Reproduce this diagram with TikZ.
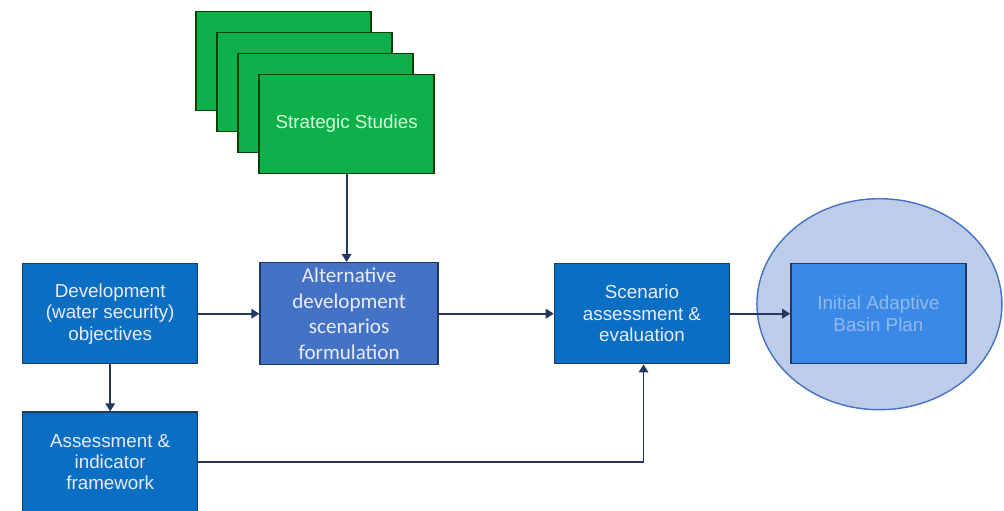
\documentclass[tikz,border=0pt]{standalone}
\usepackage{fontspec}
\setmainfont{Liberation Sans}
\newfontfamily\calibri{Carlito}
\usepackage{tikz}
\usetikzlibrary{positioning, backgrounds, arrows.meta, calc, shapes.geometric}

\definecolor{stratgreen}{HTML}{0DB04B}
\definecolor{devblue}{HTML}{0A6FC2}
\definecolor{altblue}{HTML}{4472C4}
\definecolor{planblue}{HTML}{3A89E6}
\definecolor{ringfill}{HTML}{BDCCE9}
\definecolor{ringline}{HTML}{4472C4}
\definecolor{edgenavy}{HTML}{22385F}
\definecolor{planText}{HTML}{93B9EC}

\begin{document}
\begin{tikzpicture}[
  box/.style={draw=edgenavy, line width=0.8pt, align=center, text=white!92!blue,
              minimum width=3.5cm, minimum height=2cm, inner sep=2pt,
              font=\fontsize{10.7}{12.2}\selectfont},
  study/.style={box, fill=stratgreen, draw=green!25!black, text=white!85!green,
                minimum height=1.98cm},
  arr/.style={-{Triangle[length=4.6pt, width=5.4pt]}, draw=edgenavy, line width=1.1pt},
]
\useasboundingbox (0,0) rectangle (20.08,-10.22);

%% ---- Main row ----

\node[box, fill=devblue, anchor=north west] (dev) at (0.44,-5.26)
    {Development\\(water security)\\objectives};

\node[box, fill=altblue, minimum width=3.56cm, minimum height=2.04cm,
      font=\calibri\fontsize{12}{14.6}\selectfont, right=1.22cm of dev] (alt)
    {Alternative\\development\\scenarios\\formulation};

\node[box, fill=devblue, right=2.3cm of alt] (scen)
    {Scenario\\assessment \&\\evaluation};

\node[box, fill=planblue, text=planText, right=1.2cm of scen] (init)
    {Initial Adaptive\\Basin Plan};

\node[box, fill=devblue, below=0.94cm of dev] (assess)
    {Assessment \&\\indicator\\framework};

%% ---- Strategic studies stack ----

\coordinate[above=1.76cm of alt.north, xshift=-0.05cm] (ssbase);
\foreach \k in {3,2,1}
  \node[study, anchor=south] (ss\k) at ($(ssbase)+(-0.42*\k,0.42*\k)$) {};
\node[study, anchor=south] (studies) at (ssbase) {Strategic Studies};

%% ---- Highlight around the plan ----

\begin{pgfonlayer}{background}
\node[ellipse, draw=ringline, line width=0.8pt, fill=ringfill,
      minimum width=4.9cm, minimum height=4.22cm]
    (ring) at ($(init.center)+(0.02,0.19)$) {};
\end{pgfonlayer}

%% ---- Connectors ----

\draw[arr] (studies.south -| alt.north) ++(-0.05,0) coordinate (sstip) -- (sstip |- alt.north);
\draw[arr] (dev)    -- (alt);
\draw[arr] (alt)    -- (scen);
\draw[arr] (scen)   -- (init);
\draw[arr] (dev)    -- (assess);
\draw[arr] (assess.east) -| ([xshift=0.03cm]scen.south);

\end{tikzpicture}
\end{document}
